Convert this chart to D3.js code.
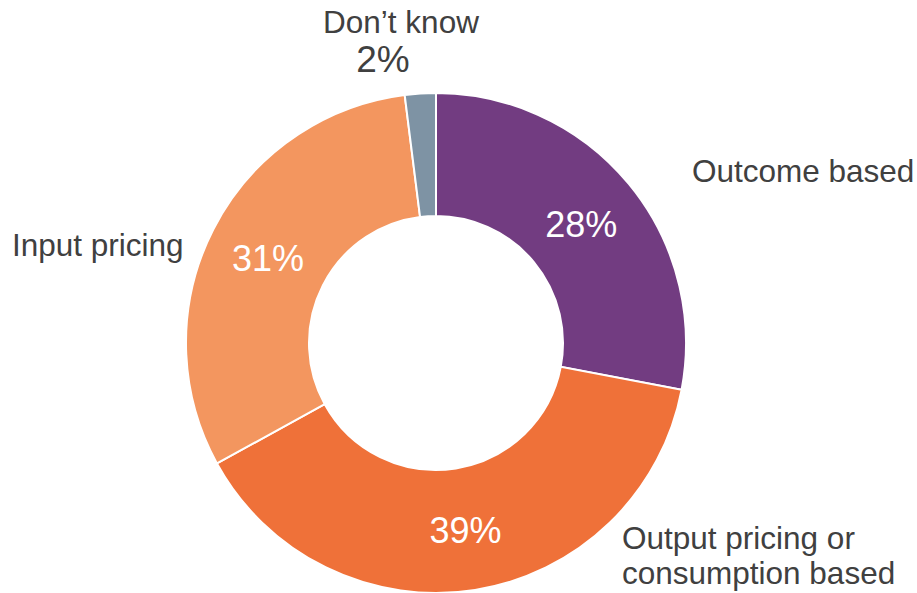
<!DOCTYPE html>
<html>
<head>
  <meta charset="utf-8">
  <title>Pricing models</title>
  <script src="https://d3js.org/d3.v7.min.js"></script>
  <style>
    body { margin: 0; background: #fff; }
    text { font-family: "Liberation Sans", Arial, sans-serif; }
  </style>
</head>
<body>
<svg class="chart"></svg>
<script>
// slices, clockwise from 12 o'clock
const categories = ["Outcome based", "Output pricing or consumption based", "Input pricing", "Don't know"];
const values = [28, 39, 31, 2];
const colors = ["#723c81", "#ef7139", "#f3965f", "#7e93a4"];
// outer label lines per slice
const labelLines = [["Outcome based"], ["Output pricing or", "consumption based"], ["Input pricing"], ["Don\u2019t know"]];

const width = 917, height = 593;
const cx = 436, cy = 343, outerR = 250, innerR = 127;

const svg = d3.select(".chart")
  .attr("width", width)
  .attr("height", height);

const g = svg.append("g")
  .attr("transform", `translate(${cx}, ${cy})`);

const pie = d3.pie().sort(null).value(d => d.value);
const arc = d3.arc().innerRadius(innerR).outerRadius(outerR);

const data = categories.map((c, i) => ({name: c, value: values[i], color: colors[i], lines: labelLines[i]}));
const arcs = pie(data);

g.selectAll("path")
  .data(arcs)
  .join("path")
    .attr("d", arc)
    .attr("fill", d => d.data.color)
    .attr("stroke", "#fff")
    .attr("stroke-width", 2);

// percent labels inside the ring (skip the tiny slice)
g.selectAll(".pct")
  .data(arcs.filter(d => d.data.value > 5))
  .join("text")
    .attr("class", "pct")
    .attr("transform", d => `translate(${arc.centroid(d)})`)
    .attr("text-anchor", "middle")
    .attr("dy", "0.38em")
    .style("font-size", "36px")
    .style("fill", "#fff")
    .text(d => d.data.value + "%");

// outer labels, placed by hand relative to the slices
const outerPos = [
  {x: 692, y: 182, anchor: "start"},
  {x: 622, y: 549, anchor: "start"},
  {x: 12, y: 256, anchor: "start"},
  {x: 401, y: 33, anchor: "middle"}
];

arcs.forEach((d, i) => {
  const p = outerPos[i];
  const t = svg.append("text")
    .attr("x", p.x)
    .attr("y", p.y)
    .attr("text-anchor", p.anchor)
    .style("font-size", "31.5px")
    .style("fill", "#404040");
  d.data.lines.forEach((line, j) => {
    t.append("tspan")
      .attr("x", p.x)
      .attr("dy", j === 0 ? 0 : 35)
      .text(line);
  });
});

// small slice gets its percent outside, under its name
svg.append("text")
  .attr("x", 383)
  .attr("y", 72)
  .attr("text-anchor", "middle")
  .style("font-size", "37px")
  .style("fill", "#404040")
  .text(values[3] + "%");
</script>
</body>
</html>
